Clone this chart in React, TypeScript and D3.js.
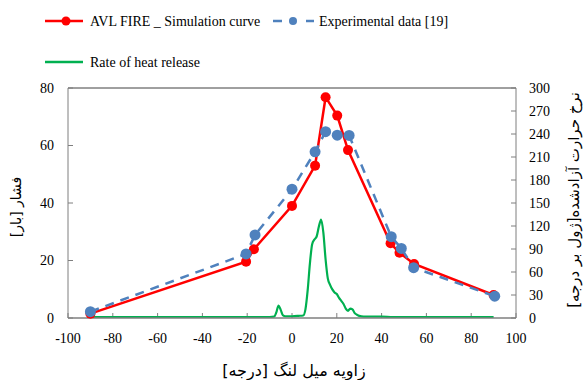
import React from "react";
import * as d3 from "d3";

const simAngle = [-90, -20.5, -17, 0, 10.3, 15, 20.2, 25, 44, 48, 54.5, 90];
const simPressure = [1.5, 19.6, 23.9, 39, 53, 76.8, 70.4, 58.4, 26, 22.7, 18.8, 8];

const expAngle = [-90, -20.5, -16.5, 0, 10.3, 15, 20.2, 25.5, 44.3, 48.8, 54.3, 90.5];
const expPressure = [2.2, 22.3, 28.9, 44.8, 57.8, 64.8, 63.6, 63.5, 28.3, 24.2, 17.5, 7.6];

const hrrAngle = [-90, -10, -8, -7, -6, -5, -4, -3, 0, 3, 5, 6, 7, 8, 9, 10, 11, 12, 13, 14, 15, 16, 17, 18, 19, 20, 21, 22, 23, 24, 25, 26, 27, 28, 29, 30, 32, 40, 45, 90];
const hrrValue = [0, 0, 0.5, 6, 15, 9, 2, 1, 1, 1.5, 2, 10, 35, 70, 95, 101, 105, 118, 127, 110, 75, 50, 42, 36, 32, 30, 25, 21, 17, 11, 8, 11, 10, 5, 3, 1.5, 0.5, 0.5, 0, 0];

const xTicks = [-100, -80, -60, -40, -20, 0, 20, 40, 60, 80, 100];
const yLeftTicks = [0, 20, 40, 60, 80];
const yRightTicks = [0, 30, 60, 90, 120, 150, 180, 210, 240, 270, 300];

const serif = "'Liberation Serif', 'DejaVu Serif'";
const persian = "'DejaVu Sans'";

export default function App() {
  const x = d3.scaleLinear().domain([-100, 100]).range([68, 516]);
  const yL = d3.scaleLinear().domain([0, 80]).range([318, 88]);
  const yR = d3.scaleLinear().domain([0, 300]).range([318, 88]);

  const sim = simAngle.map((a, i) => [a, simPressure[i]] as [number, number]);
  const exp = expAngle.map((a, i) => [a, expPressure[i]] as [number, number]);
  const hrr = hrrAngle.map((a, i) => [a, hrrValue[i]] as [number, number]);

  const lineL = d3
    .line<[number, number]>()
    .x((d) => x(d[0]))
    .y((d) => yL(d[1]))
    .curve(d3.curveLinear);
  const lineR = d3
    .line<[number, number]>()
    .x((d) => x(d[0]))
    .y((d) => yR(d[1]) - 1)
    .curve(d3.curveMonotoneX);

  const axisColor = "#7f7f7f";
  const serifStyle = { fontFamily: serif };
  const persianStyle = { fontFamily: persian };
  const fs = 14;

  return (
    <svg
      width={585}
      height={380}
      style={{ position: "absolute", left: 0, top: 0, background: "#fff" }}
    >
      <line x1={68} y1={88} x2={516} y2={88} stroke="#404040" strokeWidth={1} />
      <line x1={68} y1={88} x2={68} y2={318} stroke={axisColor} strokeWidth={1} />
      <line x1={516} y1={88} x2={516} y2={318} stroke={axisColor} strokeWidth={1} />

      {xTicks.map((t) => (
        <g key={"x" + t}>
          <line x1={x(t)} x2={x(t)} y1={318} y2={313} stroke={axisColor} />
          <text x={x(t)} y={343} textAnchor="middle" style={serifStyle} fontSize={fs} fill="#000">
            {t}
          </text>
        </g>
      ))}
      {yLeftTicks.map((t) => (
        <g key={"yl" + t}>
          <line x1={68} x2={73} y1={yL(t)} y2={yL(t)} stroke={axisColor} />
          <text x={54} y={yL(t)} dy="0.35em" textAnchor="end" style={serifStyle} fontSize={fs} fill="#000">
            {t}
          </text>
        </g>
      ))}
      {yRightTicks.map((t) => (
        <g key={"yr" + t}>
          <line x1={511} x2={516} y1={yR(t)} y2={yR(t)} stroke={axisColor} />
          <text x={529} y={yR(t)} dy="0.35em" textAnchor="start" style={serifStyle} fontSize={fs} fill="#000">
            {t}
          </text>
        </g>
      ))}

      <path d={lineR(hrr) || ""} fill="none" stroke="#00B050" strokeWidth={2.2} />

      <line x1={68} y1={318} x2={516} y2={318} stroke={axisColor} strokeWidth={1.5} />

      <path d={lineL(sim) || ""} fill="none" stroke="#FF0000" strokeWidth={2.5} />
      {sim.map((d, i) => (
        <circle key={"s" + i} cx={x(d[0])} cy={yL(d[1])} r={5} fill="#FF0000" />
      ))}

      <path d={lineL(exp) || ""} fill="none" stroke="#4F81BD" strokeWidth={2.5} strokeDasharray="9,7" />
      {exp.map((d, i) => (
        <circle key={"e" + i} cx={x(d[0])} cy={yL(d[1])} r={5.5} fill="#4F81BD" />
      ))}

      <line x1={45} x2={83} y1={21} y2={21} stroke="#FF0000" strokeWidth={2.5} />
      <circle cx={66} cy={21} r={4.5} fill="#FF0000" />
      <text x={90} y={26} style={serifStyle} fontSize={fs} fill="#000">
        AVL FIRE _ Simulation curve
      </text>
      <line x1={273} x2={282} y1={21} y2={21} stroke="#4F81BD" strokeWidth={2.5} />
      <circle cx={293} cy={21} r={4} fill="#4F81BD" />
      <line x1={306} x2={314} y1={21} y2={21} stroke="#4F81BD" strokeWidth={2.5} />
      <text x={319} y={26} style={serifStyle} fontSize={fs} fill="#000">
        Experimental data [19]
      </text>
      <line x1={45} x2={83} y1={62} y2={62} stroke="#00B050" strokeWidth={2.5} />
      <text x={90} y={67} style={serifStyle} fontSize={fs} fill="#000">
        Rate of heat release
      </text>

      <text x={294} y={370} dy="0.35em" textAnchor="middle" style={persianStyle} fontSize={16} fill="#000" direction="rtl">
        زاویه میل لنگ [درجه]
      </text>
      <text transform="translate(16,207) rotate(-90)" dy="0.35em" textAnchor="middle" style={persianStyle} fontSize={14} fill="#000" direction="rtl">
        فشار [بار]
      </text>
      <text transform="translate(574,200) rotate(-90)" dy="0.35em" textAnchor="middle" style={persianStyle} fontSize={15} fill="#000" direction="rtl">
        نرخ حرارت آزادشده[ژول بر درجه]
      </text>
    </svg>
  );
}
